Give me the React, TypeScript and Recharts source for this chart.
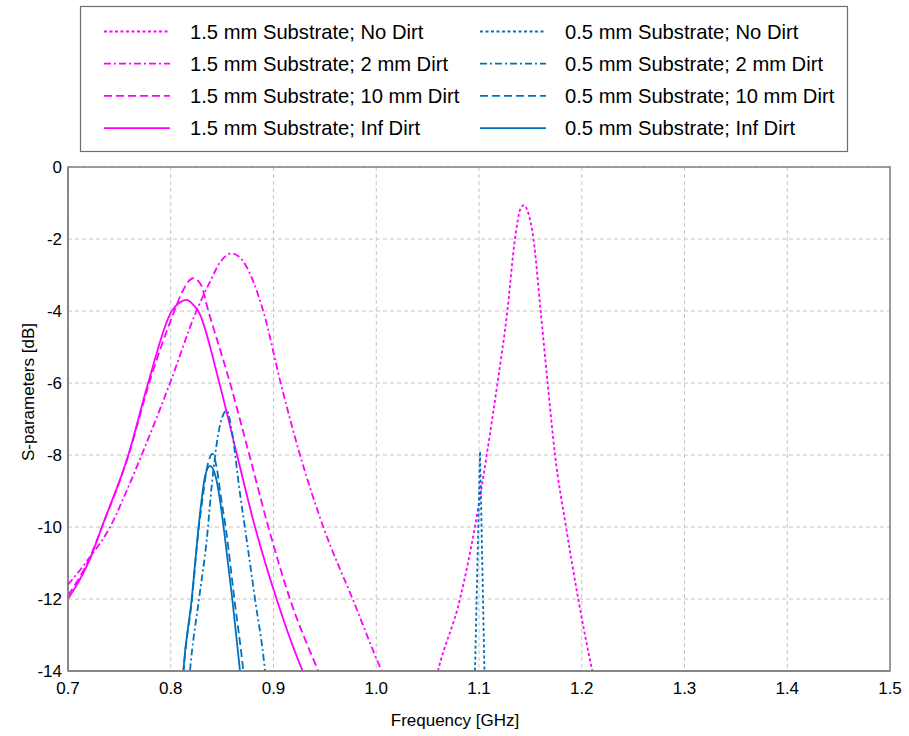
import { CartesianGrid, Line, LineChart, ReferenceArea, XAxis, YAxis } from "recharts"

// frequency [GHz] and S-parameter [dB] samples for each trace
const m1Freq = [1.055, 1.06, 1.0815, 1.096, 1.1075, 1.118, 1.1276, 1.135, 1.1405, 1.1438, 1.147, 1.153, 1.16, 1.1668, 1.174, 1.1847, 1.1966, 1.2103, 1.215]
const m1Val = [-14.6, -14, -12, -10, -8, -6, -4, -2, -1.15, -1.06, -1.2, -2, -4, -6, -8, -10, -12, -14, -14.6]

const m2Freq = [0.7, 0.721, 0.741, 0.757, 0.7717, 0.7993, 0.825, 0.838, 0.848, 0.859, 0.87, 0.881, 0.89, 0.907, 0.9258, 0.9485, 0.977, 1.0053, 1.01]
const m2Val = [-11.6, -10.85, -10, -9, -8, -6, -4, -3.2, -2.65, -2.4, -2.6, -3.23, -4, -6, -8, -10, -12, -14, -14.3]

const m3Freq = [0.7, 0.722, 0.733, 0.759, 0.779, 0.8035, 0.81, 0.822, 0.829, 0.8366, 0.8577, 0.8765, 0.895, 0.916, 0.9436, 0.948]
const m3Val = [-11.9, -10.8, -10, -8, -6, -4, -3.54, -3.09, -3.25, -4, -6, -8, -10, -12, -14, -14.3]

const m4Freq = [0.7, 0.722, 0.733, 0.7587, 0.778, 0.801, 0.808, 0.8155, 0.821, 0.8268, 0.8473, 0.8645, 0.882, 0.903, 0.9284, 0.933]
const m4Val = [-12.0, -10.85, -10, -8, -6, -4, -3.78, -3.69, -3.8, -4, -6, -8, -10, -12, -14, -14.3]

const b1Freq = [1.0955, 1.0961, 1.101, 1.1053, 1.106]
const b1Val = [-14.6, -14, -7.9, -14, -14.6]

const b2Freq = [0.8175, 0.8187, 0.8275, 0.835, 0.8398, 0.8463, 0.8544, 0.8599, 0.8665, 0.8739, 0.882, 0.8917, 0.893]
const b2Val = [-14.4, -14, -12, -10.36, -8.88, -7.4, -6.77, -7.41, -8.88, -10.36, -12, -14, -14.4]

const b3Freq = [0.8115, 0.8125, 0.8207, 0.827, 0.8315, 0.835, 0.8408, 0.845, 0.849, 0.8538, 0.8619, 0.8706, 0.872]
const b3Val = [-14.4, -14, -12, -10.08, -9.1, -8.4, -7.97, -8.4, -9.2, -10.08, -12, -14, -14.4]

const b4Freq = [0.8112, 0.8122, 0.8204, 0.8268, 0.83, 0.8333, 0.8382, 0.8437, 0.8479, 0.8518, 0.8599, 0.8674, 0.869]
const b4Val = [-14.4, -14, -12, -10.08, -9.25, -8.6, -8.3, -8.6, -9.25, -10.08, -12, -14, -14.4]

const xTicks = [0.7, 0.8, 0.9, 1.0, 1.1, 1.2, 1.3, 1.4, 1.5]
const yTicks = [-14, -12, -10, -8, -6, -4, -2, 0]

const MAGENTA = "#ff00ff"
const BLUE = "#0072bd"
const DOTTED = "3 2.5"
const DASHDOT = "7 3 2 3"
const DASHED = "8 4"

const toPoints = (freq: number[], vals: number[]) => freq.map((f, i) => ({ f, v: vals[i] }))

const series = [
  { name: "1.5 mm Substrate; No Dirt", data: toPoints(m1Freq, m1Val), color: MAGENTA, dash: DOTTED, type: "monotone" },
  { name: "1.5 mm Substrate; 2 mm Dirt", data: toPoints(m2Freq, m2Val), color: MAGENTA, dash: DASHDOT, type: "monotone" },
  { name: "1.5 mm Substrate; 10 mm Dirt", data: toPoints(m3Freq, m3Val), color: MAGENTA, dash: DASHED, type: "monotone" },
  { name: "1.5 mm Substrate; Inf Dirt", data: toPoints(m4Freq, m4Val), color: MAGENTA, dash: undefined, type: "monotone" },
  { name: "0.5 mm Substrate; No Dirt", data: toPoints(b1Freq, b1Val), color: BLUE, dash: DOTTED, type: "linear" },
  { name: "0.5 mm Substrate; 2 mm Dirt", data: toPoints(b2Freq, b2Val), color: BLUE, dash: DASHDOT, type: "monotone" },
  { name: "0.5 mm Substrate; 10 mm Dirt", data: toPoints(b3Freq, b3Val), color: BLUE, dash: DASHED, type: "monotone" },
  { name: "0.5 mm Substrate; Inf Dirt", data: toPoints(b4Freq, b4Val), color: BLUE, dash: undefined, type: "monotone" },
]

const font = "'Liberation Sans', Arial, sans-serif"

function ChartLegend() {
  const left = series.slice(0, 4)
  const right = series.slice(4)
  const row = (s: (typeof series)[number], sampleX: number, textX: number, y: number) => (
    <g key={s.name}>
      <line x1={sampleX} x2={sampleX + 66} y1={y} y2={y} stroke={s.color} strokeWidth={1.8} strokeDasharray={s.dash} />
      <text x={textX} y={y} dy="0.35em" fontSize={20.2} fill="#000" fontFamily={font}>
        {s.name}
      </text>
    </g>
  )
  return (
    <svg width={909} height={160} style={{ position: "absolute", left: 0, top: 0 }}>
      <rect x={80.5} y={6.5} width={767} height={145} fill="#fff" stroke="#6e6e6e" strokeWidth={1.2} />
      {left.map((s, i) => row(s, 104, 190, 31.5 + i * 32.2))}
      {right.map((s, i) => row(s, 480, 565, 31.5 + i * 32.2))}
    </svg>
  )
}

export default function App() {
  return (
    <div style={{ position: "absolute", left: 0, top: 0, width: 909, height: 736, background: "#fff" }}>
      <LineChart width={909} height={736} margin={{ top: 167, right: 19, bottom: 10, left: 8 }}>
        <CartesianGrid stroke="#c4c4c4" strokeDasharray="4 3" />
        <XAxis
          type="number"
          dataKey="f"
          domain={[0.7, 1.5]}
          ticks={xTicks}
          allowDataOverflow
          height={55}
          tickLine={false}
          tickSize={0}
          tickMargin={11}
          tickFormatter={(t: number) => t.toFixed(1)}
          axisLine={{ stroke: "#808080", strokeWidth: 1.5 }}
          tick={{ fill: "#000", fontSize: 17, fontFamily: font }}
          label={(props: any) => {
            const vb = props.viewBox
            return (
              <text x={vb.x + vb.width / 2 - 24} y={vb.y + 55} textAnchor="middle" fontSize={17} fontFamily={font} fill="#000">
                Frequency [GHz]
              </text>
            )
          }}
        />
        <YAxis
          type="number"
          domain={[-14, 0]}
          ticks={yTicks}
          allowDataOverflow
          width={60}
          tickLine={false}
          tickSize={0}
          tickMargin={6}
          axisLine={{ stroke: "#808080", strokeWidth: 1.5 }}
          tick={{ fill: "#000", fontSize: 17, fontFamily: font }}
          label={(props: any) => {
            const vb = props.viewBox
            const cx = vb.x + 20
            const cy = vb.y + vb.height / 2 - 27
            return (
              <text x={cx} y={cy} dy="0.35em" transform={`rotate(-90 ${cx} ${cy})`} textAnchor="middle" fontSize={17} fontFamily={font} fill="#000">
                S-parameters [dB]
              </text>
            )
          }}
        />
        <ReferenceArea x1={0.7} x2={1.5} y1={-14} y2={0} fill="none" stroke="#808080" strokeWidth={1.5} />
        {series.map((s) => (
          <Line
            key={s.name}
            data={s.data}
            dataKey="v"
            name={s.name}
            type={s.type as any}
            stroke={s.color}
            strokeWidth={1.8}
            strokeDasharray={s.dash}
            dot={false}
            activeDot={false}
            isAnimationActive={false}
          />
        ))}
      </LineChart>
      <ChartLegend />
    </div>
  )
}
